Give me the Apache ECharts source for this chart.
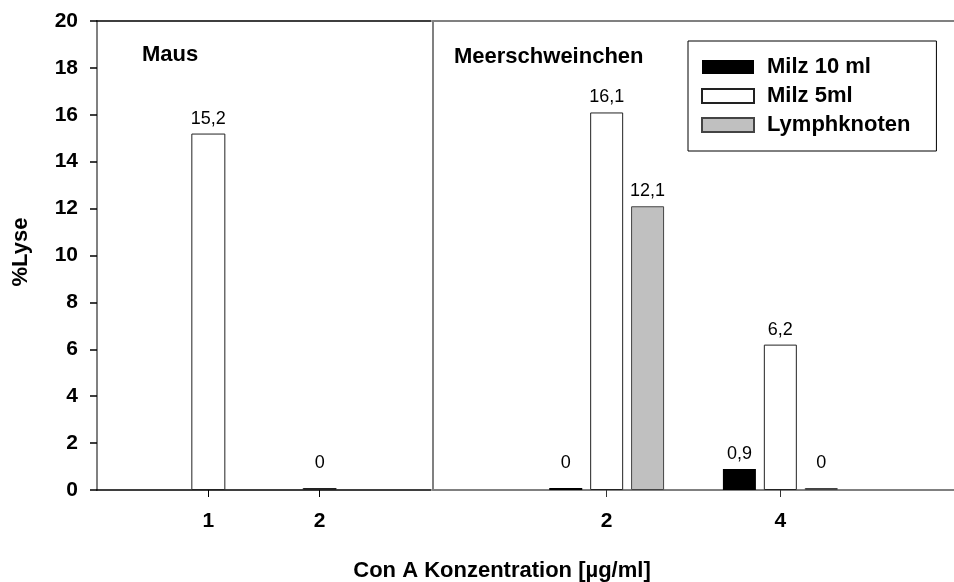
<!DOCTYPE html>
<html>
<head>
<meta charset="utf-8">
<script src="https://cdn.jsdelivr.net/npm/echarts@6/dist/echarts.min.js"></script>
<style>
  html, body { margin: 0; padding: 0; background: #fff; }
  #chart { width: 954px; height: 582px; }
</style>
</head>
<body>
<div id="chart"></div>
<script>
// Con A stimulation: percent lysis per concentration
const mouseConc = [1, 2];
const mouseLysis = [15.2, 0];

const guineaConc = [2, 4];
const spleen10 = [0, 0.9];
const spleen5 = [16.1, 6.2];
const lymphNode = [12.1, 0];

const seriesNames = ['Milz 10 ml', 'Milz 5ml', 'Lymphknoten'];
const panelTitles = ['Maus', 'Meerschweinchen'];
const yTitle = '%Lyse';
const xTitle = 'Con A Konzentration [µg/ml]';

const FONT = 'Liberation Sans, Arial, Helvetica, sans-serif';

function fmt(v) { return String(v).replace('.', ','); }

function points(xs, ys) {
  return xs.map((x, i) => ({
    value: [x, ys[i]],
    label: { distance: ys[i] === 0 ? 16 : 6 }
  }));
}

const valueLabel = {
  show: true,
  position: 'top',
  fontFamily: FONT,
  fontSize: 18,
  color: '#000',
  formatter: p => fmt(p.value[1])
};

const tickFont = { fontFamily: FONT, fontSize: 21, fontWeight: 'bold', color: '#000' };

const chart = echarts.init(document.getElementById('chart'), null, { renderer: 'canvas' });

chart.setOption({
  animation: false,
  backgroundColor: '#fff',
  grid: [
    { left: 97, right: 523, top: 21, bottom: 92 },
    { left: 433, right: 0, top: 21, bottom: 92 }
  ],
  xAxis: [
    {
      gridIndex: 0, type: 'value', min: 0, max: 3, interval: 1,
      axisLine: { lineStyle: { color: '#000', width: 1.5 } },
      axisTick: { customValues: mouseConc, length: 7, lineStyle: { color: '#000' } },
      axisLabel: Object.assign({ customValues: mouseConc, margin: 21 }, tickFont),
      splitLine: { show: false }
    },
    {
      gridIndex: 1, type: 'value', min: 0, max: 6, interval: 2,
      axisLine: { lineStyle: { color: '#808080', width: 2 } },
      axisTick: { customValues: guineaConc, length: 7, lineStyle: { color: '#333' } },
      axisLabel: Object.assign({ customValues: guineaConc, margin: 21 }, tickFont),
      splitLine: { show: false }
    },
    // frame lines along the top of each panel
    {
      gridIndex: 0, type: 'value', position: 'top', min: 0, max: 3,
      axisLine: { lineStyle: { color: '#000', width: 1.5 } },
      axisTick: { show: false }, axisLabel: { show: false }, splitLine: { show: false }
    },
    {
      gridIndex: 1, type: 'value', position: 'top', min: 0, max: 6,
      axisLine: { lineStyle: { color: '#808080', width: 2 } },
      axisTick: { show: false }, axisLabel: { show: false }, splitLine: { show: false }
    }
  ],
  yAxis: [
    {
      gridIndex: 0, type: 'value', min: 0, max: 20, interval: 2,
      axisLine: { show: true, lineStyle: { color: '#808080', width: 2 } },
      axisTick: { show: true, length: 7, lineStyle: { color: '#000', width: 1.5 } },
      axisLabel: Object.assign({ margin: 19 }, tickFont),
      splitLine: { show: false }
    },
    {
      gridIndex: 1, type: 'value', min: 0, max: 20, interval: 2,
      axisLine: { show: true, lineStyle: { color: '#808080', width: 2 } },
      axisTick: { show: false }, axisLabel: { show: false }, splitLine: { show: false }
    }
  ],
  legend: {
    data: seriesNames,
    orient: 'vertical',
    icon: 'rect',
    left: 688, top: 41,
    padding: [15, 26, 15, 13],
    itemWidth: 52, itemHeight: 14, itemGap: 7,
    borderColor: '#000', borderWidth: 1,
    backgroundColor: '#fff',
    textStyle: { fontFamily: FONT, fontSize: 22, fontWeight: 'bold', color: '#000', lineHeight: 22, padding: [0, 0, 0, 8] }
  },
  series: [
    {
      name: seriesNames[1], type: 'bar', xAxisIndex: 0, yAxisIndex: 0,
      barWidth: 34, barMinHeight: 2,
      itemStyle: { color: '#fff', borderColor: '#222', borderWidth: 1 },
      label: valueLabel,
      data: points(mouseConc, mouseLysis)
    },
    {
      name: seriesNames[0], type: 'bar', xAxisIndex: 1, yAxisIndex: 1,
      barWidth: 33, barGap: '24%', barMinHeight: 2,
      itemStyle: { color: '#000', borderColor: '#000', borderWidth: 0 },
      label: valueLabel,
      data: points(guineaConc, spleen10)
    },
    {
      name: seriesNames[1], type: 'bar', xAxisIndex: 1, yAxisIndex: 1,
      barWidth: 33, barGap: '24%', barMinHeight: 2,
      itemStyle: { color: '#fff', borderColor: '#222', borderWidth: 1 },
      label: valueLabel,
      data: points(guineaConc, spleen5)
    },
    {
      name: seriesNames[2], type: 'bar', xAxisIndex: 1, yAxisIndex: 1,
      barWidth: 33, barGap: '24%', barMinHeight: 2,
      itemStyle: { color: '#c0c0c0', borderColor: '#444', borderWidth: 1 },
      label: valueLabel,
      data: points(guineaConc, lymphNode)
    }
  ],
  graphic: [
    { type: 'text', left: 142, top: 44, style: { text: panelTitles[0], font: 'bold 22px ' + FONT, fill: '#000' } },
    { type: 'text', left: 454, top: 46, style: { text: panelTitles[1], font: 'bold 22px ' + FONT, fill: '#000' } },
    { type: 'text', x: 502, y: 571, style: { text: xTitle, font: 'bold 22px ' + FONT, fill: '#000', align: 'center', verticalAlign: 'middle' } },
    { type: 'text', x: 21, y: 252, rotation: Math.PI / 2, style: { text: yTitle, font: 'bold 22px ' + FONT, fill: '#000', align: 'center', verticalAlign: 'middle' } }
  ]
});
</script>
</body>
</html>
